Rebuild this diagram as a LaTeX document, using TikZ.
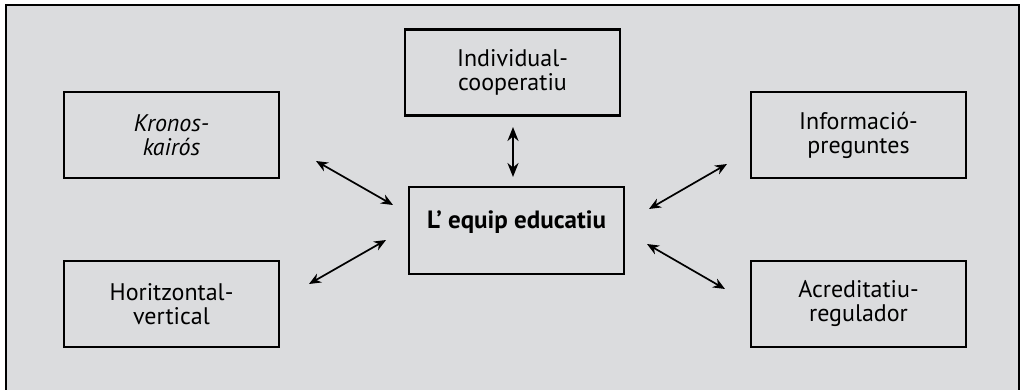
\documentclass[tikz,border=0pt]{standalone}
\usepackage{fontspec}
\setmainfont{PT Sans}
\usetikzlibrary{arrows.meta}
\definecolor{bg}{HTML}{DBDCDE}
\tikzset{
  box/.style={draw=black, line width=2.6pt, minimum width=215pt, minimum height=86pt, align=center, font=\fontsize{24}{24}\selectfont, inner sep=0pt},
  conn/.style={{Stealth[length=12pt,width=10pt]}-{Stealth[length=12pt,width=10pt]}, line width=1.7pt},
  vconn/.style={{Stealth[length=14pt,width=11pt]}-{Stealth[length=14pt,width=11pt]}, line width=2.4pt}
}
\begin{document}
\begin{tikzpicture}[x=1pt,y=-1pt]
\useasboundingbox (0,0) rectangle (1020,389);
\fill[bg] (6,5) rectangle (1019,392);
\draw[line width=1.4pt] (6,392) -- (6,5) -- (1019,5) -- (1019,392);

\node[box] (k) at (171.5,135) {\itshape Kronos-\\\itshape kairós};
\node[box] (h) at (171.5,304) {Horitzontal-\\vertical};
\node[box] (i) at (512.5,72.5) {Individual-\\cooperatiu};
\node[box, minimum height=87pt] (c) at (516.5,230.5) {};
\node[font=\fontsize{25}{25}\selectfont\bfseries] (ct) at (516.5,222) {L’ equip educatiu};
\node[box] (m) at (858.5,135) {Informació-\\preguntes};
\node[box] (a) at (858.5,304) {Acreditatiu-\\regulador};

\coordinate (k1) at (316,161);
\coordinate (k2) at (393,205);
\coordinate (h1) at (309,284);
\coordinate (h2) at (386,240);
\coordinate (i1) at (513,127);
\coordinate (i2) at (513,177);
\coordinate (m1) at (649,209);
\coordinate (m2) at (727,164);
\coordinate (a1) at (647,244);
\coordinate (a2) at (725,289);

\draw[conn] (k1) -- (k2);
\draw[conn] (h1) -- (h2);
\draw[vconn] (i1) -- (i2);
\draw[conn] (m1) -- (m2);
\draw[conn] (a1) -- (a2);
\end{tikzpicture}
\end{document}
